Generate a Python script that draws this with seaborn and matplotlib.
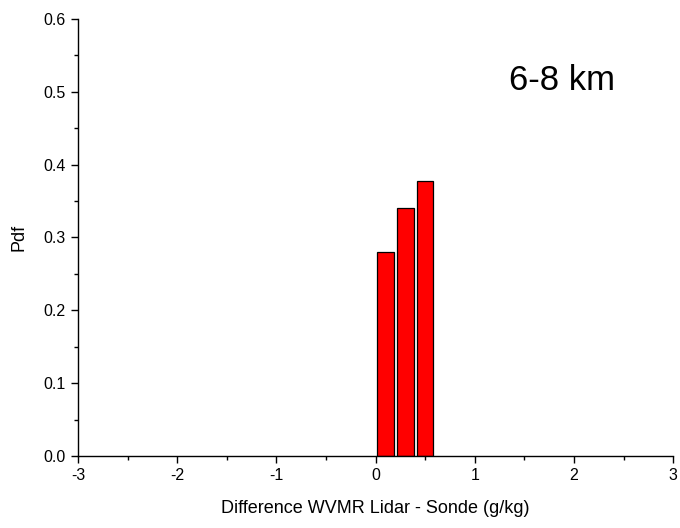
import matplotlib
matplotlib.use("Agg")
import matplotlib.pyplot as plt
from matplotlib.ticker import MultipleLocator
import pandas as pd
import seaborn as sns

# bin centres (g/kg) and pdf values
bin_centers = [0.1, 0.3, 0.5]
pdf_values = [0.28, 0.34, 0.378]
label_text = '6-8 km'

sns.set_theme(style="ticks", rc={'text.color': 'black', 'axes.labelcolor': 'black',
                                 'xtick.color': 'black', 'ytick.color': 'black'})
plt.rcParams['font.family'] = ['Liberation Sans', 'DejaVu Sans']

df = pd.DataFrame({'diff': bin_centers, 'pdf': pdf_values})

fig = plt.figure(figsize=(6.8, 5.28), dpi=100)
ax = fig.add_axes([0.1147, 0.1364, 0.8753, 0.8276])

sns.barplot(data=df, x='diff', y='pdf', native_scale=True, width=0.83,
            color='#ff0000', saturation=1, edgecolor='black', linewidth=0.9, ax=ax)

ax.set_xlim(-3, 3)
ax.set_ylim(0, 0.6)
ax.xaxis.set_major_locator(MultipleLocator(1))
ax.xaxis.set_minor_locator(MultipleLocator(0.5))
ax.yaxis.set_major_locator(MultipleLocator(0.1))
ax.yaxis.set_minor_locator(MultipleLocator(0.05))
ax.xaxis.set_major_formatter(plt.FormatStrFormatter('%d'))
ax.yaxis.set_major_formatter(plt.FormatStrFormatter('%.1f'))

ax.tick_params(which='major', direction='out', length=5, width=1, labelsize=11.5, pad=4)
ax.tick_params(which='minor', direction='out', length=3, width=1)

for side in ['top', 'right']:
    ax.spines[side].set_visible(False)
for side in ['left', 'bottom']:
    ax.spines[side].set_linewidth(1)
    ax.spines[side].set_color('black')

ax.set_xlabel('Difference WVMR Lidar - Sonde (g/kg)', fontsize=13, labelpad=12)
ax.set_ylabel('Pdf', fontsize=13, labelpad=11)

ax.text(1.88, 0.516, label_text, fontsize=25, ha='center', va='center')

fig.savefig('out.png', dpi=100)
